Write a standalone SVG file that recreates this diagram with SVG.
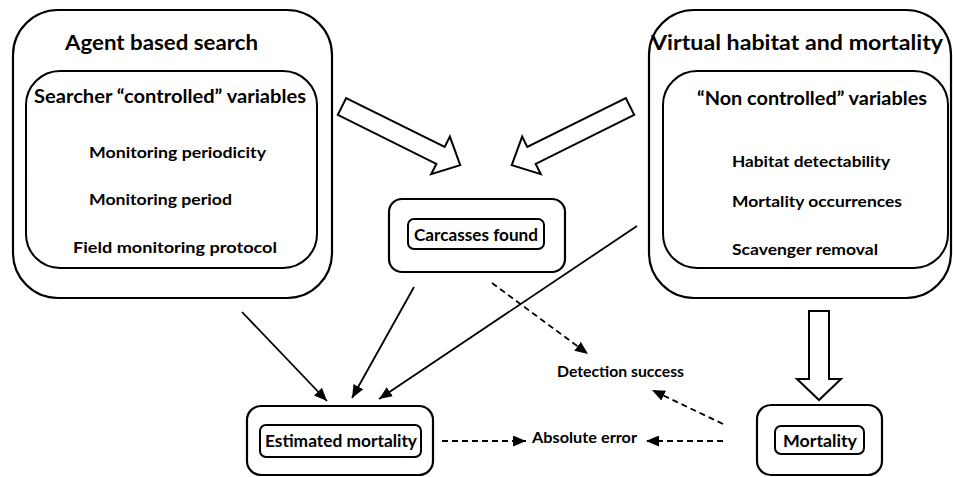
<svg xmlns="http://www.w3.org/2000/svg" width="953" height="477" viewBox="0 0 953 477">
<defs>
<style>
.box{fill:#fff;stroke:#000;stroke-width:2.2}
.inner{fill:none;stroke:#000;stroke-width:2}
.t{font-family:Lato,"Liberation Sans",sans-serif;font-weight:bold;fill:#000}
.big{font-size:21px}
.sub{font-size:18px}
.item{font-size:16px}
.lbl{font-size:17px}
.conn{fill:none;stroke:#000;stroke-width:1.8}
.dash{stroke-dasharray:6 4}
.hollow{fill:#fff;stroke:#000;stroke-width:2;stroke-linejoin:miter}
</style>
<marker id="ah" markerUnits="userSpaceOnUse" markerWidth="13" markerHeight="11" refX="13" refY="5.5" orient="auto">
<path d="M0,0 L13,5.5 L0,11 z" fill="#000"/>
</marker>
</defs>
<rect width="953" height="477" fill="#fff"/>

<g id="agent-search">
<rect class="box" x="13" y="10" width="319" height="288" rx="45" ry="45"/>
<text class="t big" x="161.5" y="50" text-anchor="middle" textLength="193" lengthAdjust="spacingAndGlyphs">Agent based search</text>
<rect class="inner" x="26" y="71" width="291" height="197" rx="34" ry="34"/>
<text class="t sub" x="170" y="103" text-anchor="middle" textLength="272" lengthAdjust="spacingAndGlyphs">Searcher “controlled” variables</text>
<text class="t item" x="89" y="158" textLength="177" lengthAdjust="spacingAndGlyphs">Monitoring periodicity</text>
<text class="t item" x="89" y="205" textLength="143" lengthAdjust="spacingAndGlyphs">Monitoring period</text>
<text class="t item" x="73" y="253" textLength="204" lengthAdjust="spacingAndGlyphs">Field monitoring protocol</text>
</g>

<g id="virtual-habitat">
<rect class="box" x="649" y="10" width="302" height="288" rx="45" ry="45"/>
<text class="t big" x="797" y="50" text-anchor="middle" textLength="292" lengthAdjust="spacingAndGlyphs">Virtual habitat and mortality</text>
<rect class="inner" x="663" y="71" width="285" height="197" rx="34" ry="34"/>
<text class="t sub" x="812" y="105" text-anchor="middle" textLength="230" lengthAdjust="spacingAndGlyphs">“Non controlled” variables</text>
<text class="t item" x="732" y="167" textLength="158" lengthAdjust="spacingAndGlyphs">Habitat detectability</text>
<text class="t item" x="732" y="207" textLength="170" lengthAdjust="spacingAndGlyphs">Mortality occurrences</text>
<text class="t item" x="732" y="255" textLength="146" lengthAdjust="spacingAndGlyphs">Scavenger removal</text>
</g>

<g id="carcasses-found">
<rect class="box" x="389" y="199" width="176" height="73" rx="13" ry="13"/>
<rect class="inner" x="408" y="219" width="136" height="30" rx="6" ry="6"/>
<text class="t lbl" x="476" y="241" text-anchor="middle" textLength="124" lengthAdjust="spacingAndGlyphs">Carcasses found</text>
</g>

<g id="estimated-mortality">
<rect class="box" x="247" y="406" width="186" height="69" rx="14" ry="14"/>
<rect class="inner" x="260" y="425" width="161" height="32" rx="6" ry="6"/>
<text class="t lbl" x="341" y="447" text-anchor="middle" textLength="152" lengthAdjust="spacingAndGlyphs">Estimated mortality</text>
</g>

<g id="mortality">
<rect class="box" x="757" y="405" width="125" height="70" rx="14" ry="14"/>
<rect class="inner" x="775" y="426" width="89" height="28" rx="6" ry="6"/>
<text class="t lbl" x="820" y="447" text-anchor="middle" textLength="74" lengthAdjust="spacingAndGlyphs">Mortality</text>
</g>

<g id="detection-success">
<text class="t item" x="557" y="377" textLength="127" lengthAdjust="spacingAndGlyphs">Detection success</text>
</g>

<g id="absolute-error">
<text class="t item" x="532" y="443" textLength="105" lengthAdjust="spacingAndGlyphs">Absolute error</text>
</g>

<g id="connectors">
<polygon class="hollow" transform="translate(342,106.5) rotate(26.4)" points="0,-9.4 110,-9.4 110,-21 132,0 110,21 110,9.4 0,9.4"/>
<polygon class="hollow" transform="translate(630,106.5) rotate(153.6)" points="0,-9.4 110,-9.4 110,-21 132,0 110,21 110,9.4 0,9.4"/>
<polygon class="hollow" points="809,311 829,311 829,379 841,379 819,400 797,379 809,379"/>
<line class="conn" x1="242" y1="312" x2="327" y2="401" marker-end="url(#ah)"/>
<line class="conn" x1="414" y1="287" x2="352" y2="398" marker-end="url(#ah)"/>
<line class="conn" x1="637" y1="226" x2="379" y2="399" marker-end="url(#ah)"/>
<line class="conn dash" x1="492" y1="283" x2="588" y2="354" marker-end="url(#ah)"/>
<line class="conn dash" x1="723" y1="424" x2="652" y2="390" marker-end="url(#ah)"/>
<line class="conn dash" x1="442" y1="441" x2="526" y2="441" marker-end="url(#ah)"/>
<line class="conn dash" x1="723" y1="441" x2="646" y2="441" marker-end="url(#ah)"/>
</g>
</svg>
